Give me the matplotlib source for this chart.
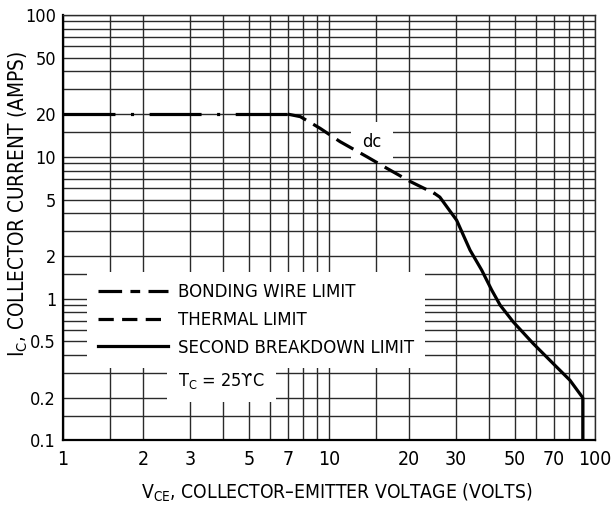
import matplotlib
matplotlib.use("Agg")
import matplotlib.pyplot as plt
from matplotlib.lines import Line2D

# safe operating area
bond_v = [1, 7]
bond_i = [20, 20]
thermal_v = [7, 7.8, 9.25, 11, 13.9, 16.5, 20.2, 25]
thermal_i = [20, 19.2, 15.9, 12.8, 10, 8.3, 6.7, 5.5]
sb_v = [25, 26.1, 30.2, 33.9, 37.5, 40.9, 44, 49.3, 58.6, 69.7, 80.5, 90, 90]
sb_i = [5.5, 5.2, 3.57, 2.2, 1.59, 1.15, 0.9, 0.685, 0.482, 0.348, 0.266, 0.2, 0.1]

x_ticks = [1, 2, 3, 5, 7, 10, 20, 30, 50, 70, 100]
x_labels = ["1", "2", "3", "5", "7", "10", "20", "30", "50", "70", "100"]
y_ticks = [0.1, 0.2, 0.5, 1, 2, 5, 10, 20, 50, 100]
y_labels = ["0.1", "0.2", "0.5", "1", "2", "5", "10", "20", "50", "100"]
steps = [1, 1.5, 2, 3, 4, 5, 6, 7, 8, 9]
x_grid = [s * d for d in (1, 10) for s in steps] + [100]
y_grid = [s * d for d in (0.1, 1, 10) for s in steps] + [100]

plt.rcParams["font.family"] = ["DejaVu Sans"]
plt.rcParams["font.stretch"] = "condensed"
plt.rcParams["mathtext.fontset"] = "custom"
plt.rcParams["mathtext.rm"] = "DejaVu Sans:stretch=condensed"
plt.rcParams["mathtext.it"] = "DejaVu Sans:stretch=condensed"
plt.rcParams["lines.scale_dashes"] = False

fig = plt.figure(figsize=(6.13, 5.08), dpi=100)
ax = fig.add_axes([0.1028, 0.1329, 0.8678, 0.8376])
ax.set_xscale("log")
ax.set_yscale("log")
ax.set_xlim(1, 100)
ax.set_ylim(0.1, 100)

ax.set_xticks(x_ticks, x_labels, fontsize=14)
ax.set_yticks(y_ticks, y_labels, fontsize=13)
ax.set_xticks(x_grid, minor=True)
ax.set_yticks(y_grid, minor=True)
ax.xaxis.set_minor_formatter(plt.NullFormatter())
ax.yaxis.set_minor_formatter(plt.NullFormatter())
ax.tick_params(which="both", length=0)
ax.tick_params(axis="x", pad=7)
ax.tick_params(axis="y", pad=5)
ax.grid(which="both", color="#2a2a2a", linewidth=1.0)
ax.set_axisbelow(True)
for s in ("left", "bottom"):
    ax.spines[s].set_linewidth(1.6)
for s in ("top", "right"):
    ax.spines[s].set_linewidth(1.0)
    ax.spines[s].set_color("#2a2a2a")

lw = 2.3
ax.plot(bond_v, bond_i, color="black", lw=lw, dashes=(37.4, 11.2, 2.2, 11.2),
        solid_capstyle="butt", dash_capstyle="butt", zorder=5)
ax.plot(thermal_v, thermal_i, color="black", lw=lw, dashes=(14, 6),
        dash_capstyle="butt", zorder=5)
ax.plot(sb_v, sb_i, color="black", lw=lw, zorder=5)

ax.text(14.5, 12.7, "dc", fontsize=13, ha="center", va="center", zorder=4,
        bbox=dict(facecolor="white", edgecolor="none", pad=8))

handles = [
    Line2D([], [], color="black", lw=lw, dashes=(17, 6, 7, 6)),
    Line2D([], [], color="black", lw=lw, dashes=(11, 6)),
    Line2D([], [], color="black", lw=lw),
]
names = ["BONDING WIRE LIMIT", "THERMAL LIMIT", "SECOND BREAKDOWN LIMIT"]
leg = ax.legend(handles, names, loc="upper left", bbox_to_anchor=(0.028, 0.417),
                fontsize=13.3, handlelength=3.8, handletextpad=0.5, labelspacing=0.52,
                borderpad=0.6, fancybox=False, framealpha=1, edgecolor="none",
                facecolor="white")
leg.set_zorder(3)

ax.text(0.216, 0.14, "T$_\\mathrm{C}$ = 25ϒC", transform=ax.transAxes, fontsize=13,
        ha="left", va="center", zorder=3,
        bbox=dict(facecolor="white", edgecolor="none", pad=8))

ax.set_xlabel("V$_\\mathrm{CE}$, COLLECTOR–EMITTER VOLTAGE (VOLTS)", fontsize=13.9)
ax.xaxis.set_label_coords(0.514, -0.098)
ax.set_ylabel("I$_\\mathrm{C}$, COLLECTOR CURRENT (AMPS)", fontsize=14.9)
ax.yaxis.set_label_coords(-0.062, 0.556)

fig.savefig("out.png", dpi=100)
